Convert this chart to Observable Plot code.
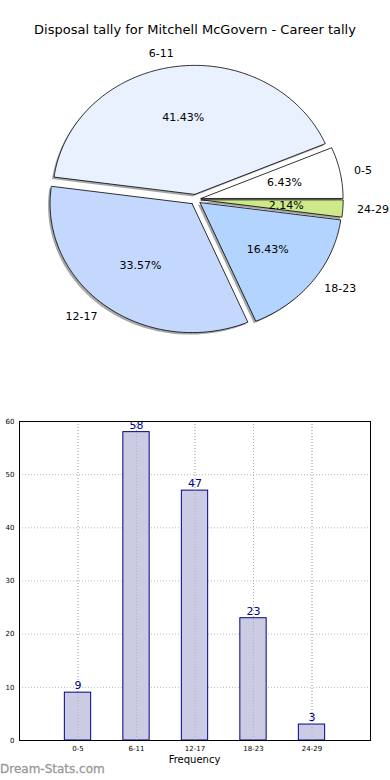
<!DOCTYPE html>
<html>
<head>
<meta charset="utf-8">
<script src="https://cdn.jsdelivr.net/npm/d3@7"></script>
<script src="https://cdn.jsdelivr.net/npm/@observablehq/plot@0.6"></script>
<style>
  html, body { margin: 0; padding: 0; background: #fff; }
  #wrap { position: relative; width: 390px; height: 780px; font-family: "DejaVu Sans", sans-serif; overflow: hidden; }
  #title { position: absolute; top: 22px; left: 0; width: 390px; text-align: center; font-size: 13px; color: #000; }
  #pie { position: absolute; top: 0; left: 0; }
  #bars { position: absolute; top: 400px; left: 0; }
  #xlabel { position: absolute; top: 754px; left: 19px; width: 351px; text-align: center; font-size: 10px; color: #000; }
  #mark { position: absolute; top: 762px; left: 0; font-size: 12px; color: #999; font-weight: normal; -webkit-text-stroke: 0.3px #999; }
</style>
</head>
<body>
<div id="wrap">
  <div id="pie"></div>
  <div id="title">Disposal tally for Mitchell McGovern - Career tally</div>
  <div id="bars"></div>
  <div id="xlabel">Frequency</div>
  <div id="mark">Dream-Stats.com</div>
</div>
<script>
const categories = ["0-5", "6-11", "12-17", "18-23", "24-29"];
const counts = [9, 58, 47, 23, 3];
const sliceColors = ["#ffffff", "#eaf1fe", "#c4d8fe", "#b3d4fe", "#cde98a"];
const yTicks = [0, 10, 20, 30, 40, 50, 60];

const font = "DejaVu Sans";

// ---------- Pie ----------
const total = d3.sum(counts);
const explode = 0.04;
let acc = 0;
const slices = counts.map((v, i) => {
  const a0 = acc;
  acc += v / total * 2 * Math.PI;
  const a1 = acc;
  const mid = (a0 + a1) / 2;
  return {cat: categories[i], v, a0, a1, mid, color: sliceColors[i],
          ox: explode * Math.cos(mid), oy: explode * Math.sin(mid),
          pct: (v / total * 100).toFixed(2) + "%"};
});
function poly(s) {
  const pts = [{x: s.ox, y: s.oy}];
  const n = Math.max(2, Math.ceil((s.a1 - s.a0) / (Math.PI / 180)));
  for (let k = 0; k <= n; k++) {
    const t = s.a0 + (s.a1 - s.a0) * k / n;
    pts.push({x: s.ox + Math.cos(t), y: s.oy + Math.sin(t)});
  }
  pts.push({x: s.ox, y: s.oy});
  return pts;
}
const labelPts = slices.map(s => ({
  text: s.cat,
  x: s.ox + 1.1 * Math.cos(s.mid),
  y: s.oy + 1.1 * Math.sin(s.mid),
  right: Math.cos(s.mid) >= 0
}));
const pctPts = slices.map(s => ({
  text: s.pct,
  x: s.ox + 0.6 * Math.cos(s.mid),
  y: s.oy + 0.6 * Math.sin(s.mid)
}));

const cx = 195, cy = 199, Rx = 142, Ry = 129;
const pieMarks = [];
slices.forEach(s => pieMarks.push(Plot.line(poly(s), {x: "x", y: "y", fill: "#8a8a8a", fillOpacity: 0.75, stroke: "none", dx: -2, dy: 2})));
slices.forEach(s => pieMarks.push(Plot.line(poly(s), {x: "x", y: "y", fill: s.color, stroke: "#000", strokeWidth: 0.8})));
pieMarks.push(Plot.text(labelPts.filter(d => d.right), {x: "x", y: "y", text: "text", textAnchor: "start", fontSize: 11, fill: "#000"}));
pieMarks.push(Plot.text(labelPts.filter(d => !d.right), {x: "x", y: "y", text: "text", textAnchor: "end", fontSize: 11, fill: "#000"}));
pieMarks.push(Plot.text(pctPts, {x: "x", y: "y", text: "text", fontSize: 11, fill: "#000"}));

const pie = Plot.plot({
  width: 390, height: 400,
  margin: 0,
  style: {fontFamily: font, background: "transparent", overflow: "visible"},
  x: {type: "linear", domain: [-1, 1], range: [cx - Rx, cx + Rx], axis: null},
  y: {type: "linear", domain: [-1, 1], range: [cy + Ry, cy - Ry], axis: null},
  marks: pieMarks
});
document.getElementById("pie").append(pie);

// ---------- Bars ----------
const barData = categories.map((c, i) => ({cat: c, i, v: counts[i]}));
const bw = 0.225;
const bars = Plot.plot({
  width: 390, height: 380,
  marginTop: 21, marginBottom: 40, marginLeft: 19, marginRight: 20,
  style: {fontFamily: font, background: "transparent", overflow: "visible"},
  x: {type: "linear", domain: [-1, 5]},
  y: {type: "linear", domain: [0, 60]},
  marks: [
    Plot.gridX({ticks: [0, 1, 2, 3, 4], stroke: "#b8b8b8", strokeOpacity: 1, strokeDasharray: "1,2"}),
    Plot.gridY({ticks: yTicks, stroke: "#b8b8b8", strokeOpacity: 1, strokeDasharray: "1,2"}),
    Plot.rectY(barData, {x1: d => d.i - bw, x2: d => d.i + bw, y1: 0, y2: "v", fill: "#cbcbe3", stroke: "#00008b", strokeWidth: 1}),
    Plot.gridX({ticks: [0, 1, 2, 3, 4], stroke: "#a0a0a0", strokeOpacity: 0.6, strokeDasharray: "1,2"}),
    Plot.text(barData, {x: "i", y: "v", text: d => String(d.v), dy: -7, fill: "#00008b", fontSize: 11}),
    Plot.axisX({ticks: [0, 1, 2, 3, 4], tickFormat: i => categories[i], tickSize: 0, tickPadding: 6, fontSize: 7, label: null}),
    Plot.axisY({ticks: yTicks, tickSize: 0, tickPadding: 5, fontSize: 7, label: null}),
    Plot.frame({stroke: "#000", strokeWidth: 1})
  ]
});
document.getElementById("bars").append(bars);
</script>
</body>
</html>
